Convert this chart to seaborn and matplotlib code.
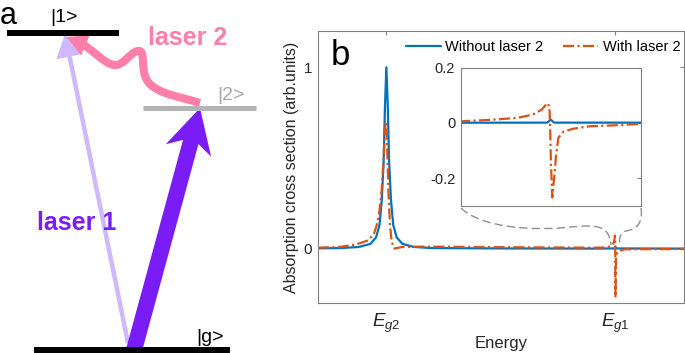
import numpy as np
import pandas as pd
import matplotlib
matplotlib.use("Agg")
import matplotlib.pyplot as plt
import seaborn as sns
from matplotlib.path import Path
from matplotlib.patches import PathPatch, FancyArrow, Polygon

# ---------------- data ----------------
energy_without = [0.70, 0.80, 0.88, 0.93, 0.955, 0.970, 0.980, 0.988, 0.994, 1.000,
                  1.006, 1.012, 1.020, 1.030, 1.045, 1.070, 1.120, 1.200, 1.500,
                  1.900, 1.9985, 2.0000, 2.0015, 2.300]
absorption_without = [0.0015, 0.003, 0.009, 0.026, 0.062, 0.13, 0.27, 0.48, 0.79, 1.00,
                      0.79, 0.48, 0.27, 0.13, 0.062, 0.026, 0.009, 0.003, 0.001,
                      0.000, 0.001, 0.012, 0.001, 0.000]

energy_with = [0.70, 0.80, 0.865, 0.92, 0.945, 0.958, 0.970, 0.980, 0.988, 0.994,
               0.998, 1.002, 1.006, 1.010, 1.016, 1.022, 1.030, 1.036, 1.045, 1.07,
               1.15, 1.30, 1.50, 1.75, 1.90,
               1.960, 1.973, 1.985, 1.992, 1.996, 1.9985, 1.9994, 1.9997, 2.0001,
               2.0007, 2.0015, 2.0024, 2.0034, 2.0056, 2.0100, 2.0175, 2.0277,
               2.0397, 2.15, 2.30]
absorption_with = [0.005, 0.010, 0.022, 0.045, 0.08, 0.13, 0.21, 0.33, 0.50, 0.66,
                   0.70, 0.62, 0.45, 0.28, 0.13, 0.05, 0.01, 0.0, 0.003, 0.009,
                   0.011, 0.010, 0.008, 0.006, 0.005,
                   0.006, 0.011, 0.018, 0.030, 0.048, 0.072, 0.060, 0.0, -0.15,
                   -0.27, -0.20, -0.114, -0.054, -0.032, -0.021, -0.012, -0.009,
                   -0.004, -0.003, -0.002]

series_names = ["Without laser 2", "With laser 2"]
xtick_positions = [1.0, 2.0]
xtick_labels = [r"$E_{g2}$", r"$E_{g1}$"]
ytick_main = [0, 1]
ytick_inset = [-0.2, 0, 0.2]
ytick_inset_labels = ["-0.2", "0", "0.2"]

# ---------------- style ----------------
sns.set_theme(style="white")
plt.rcParams["font.family"] = ["Liberation Sans", "DejaVu Sans"]
plt.rcParams["mathtext.fontset"] = "custom"
plt.rcParams["mathtext.it"] = "Liberation Sans:italic"
plt.rcParams["mathtext.rm"] = "Liberation Sans"
plt.rcParams["axes.unicode_minus"] = False

BLUE = "#0072BD"
ORANGE = "#D95319"
SPINE = "#808080"
TXT = "#262626"
DASHDOT = (0, (5, 1.5, 1, 1.5))

fig = plt.figure(figsize=(6.85, 3.53), dpi=100)

df_wo = pd.DataFrame({"Energy": energy_without, "Absorption": absorption_without})
df_w = pd.DataFrame({"Energy": energy_with, "Absorption": absorption_with})

# ---------------- main axes (panel b) ----------------
ax = fig.add_axes([0.4638, 0.1416, 0.5347, 0.7706])
sns.lineplot(data=df_wo, x="Energy", y="Absorption", ax=ax, color=BLUE, lw=1.6,
             estimator=None, sort=False, label=series_names[0])
sns.lineplot(data=df_w, x="Energy", y="Absorption", ax=ax, color=ORANGE, lw=1.6,
             estimator=None, sort=False, linestyle=DASHDOT, label=series_names[1])
ax.set_xlim(0.7, 2.3)
ax.set_ylim(-0.3, 1.2)
ax.set_xticks(xtick_positions, xtick_labels)
ax.set_yticks(ytick_main, [str(v) for v in ytick_main])
ax.tick_params(direction="in", length=3, width=0.8, color=SPINE, top=True, right=True,
               labelsize=11, labelcolor=TXT)
ax.tick_params(axis="x", pad=6, labelsize=13.5)
ax.tick_params(axis="y", pad=4)
for s in ax.spines.values():
    s.set_color(SPINE)
    s.set_linewidth(0.8)
ax.set_xlabel("Energy", fontsize=12, color=TXT, labelpad=1)
ax.set_ylabel("Absorption cross section (arb.units)", fontsize=11.5, color=TXT, labelpad=3)
ax.legend(loc="center", bbox_to_anchor=(0.615, 0.942), ncol=2, frameon=False,
          fontsize=10.5, handlelength=2.4, handletextpad=0.3, columnspacing=1.4,
          borderaxespad=0, borderpad=0, labelcolor="black")
ax.text(0.036, 0.875, "b", transform=ax.transAxes, fontsize=25, ha="left",
        va="baseline", color="black")

# ---------------- inset ----------------
axin = fig.add_axes([0.6726, 0.4173, 0.2628, 0.3909])
sns.lineplot(data=df_wo, x="Energy", y="Absorption", ax=axin, color=BLUE, lw=1.6,
             estimator=None, sort=False, legend=False)
sns.lineplot(data=df_w, x="Energy", y="Absorption", ax=axin, color=ORANGE, lw=1.6,
             estimator=None, sort=False, linestyle=DASHDOT, legend=False)
axin.set_xlim(1.96, 2.04)
axin.set_ylim(-0.3, 0.2)
axin.set_xticks([])
axin.set_yticks(ytick_inset, ytick_inset_labels)
axin.set_xlabel("")
axin.set_ylabel("")
axin.tick_params(direction="in", length=3, width=0.8, color=SPINE, right=True,
                 labelsize=10.5, labelcolor=TXT, pad=4)
for s in axin.spines.values():
    s.set_color(SPINE)
    s.set_linewidth(0.8)

# ---------------- overlay in pixel coordinates (panel a + connectors) ----------------
ov = fig.add_axes([0, 0, 1, 1])
ov.set_xlim(0, 685)
ov.set_ylim(353, 0)
ov.axis("off")

# dashed connectors from inset to E_g1 region
conn_left = Path([(461, 208), (475, 222), (510, 231), (560, 228),
                  (592, 225), (609, 222), (611, 245)],
                 [Path.MOVETO, Path.CURVE4, Path.CURVE4, Path.CURVE4,
                  Path.CURVE4, Path.CURVE4, Path.CURVE4])
conn_right = Path([(641, 208), (643, 222), (638, 229), (626, 231),
                   (619, 233), (619, 240), (620, 246)],
                  [Path.MOVETO, Path.CURVE4, Path.CURVE4, Path.CURVE4,
                   Path.CURVE4, Path.CURVE4, Path.CURVE4])
for p in (conn_left, conn_right):
    ov.add_patch(PathPatch(p, fill=False, edgecolor="#8f8f8f", lw=1.0,
                           linestyle=(0, (6, 3))))

# energy levels
ov.plot([7, 119], [32.5, 32.5], color="black", lw=4.3, solid_capstyle="butt")
ov.plot([143, 256], [107.7, 107.7], color="#B3B3B3", lw=3.6, solid_capstyle="butt")
ov.plot([34, 230], [349.5, 349.5], color="black", lw=4.3, solid_capstyle="butt")

ov.text(0, 0.5, "a", fontsize=22, ha="left", va="top", color="black")
ov.text(50, 22, "|1>", fontsize=14, ha="left", va="baseline", color="black")
ov.text(217, 100, "|2>", fontsize=14, ha="left", va="baseline", color="#A6A6A6")
ov.text(196, 341.5, "|g>", fontsize=14, ha="left", va="baseline", color="black")

# laser arrows
ov.add_patch(FancyArrow(128, 343, 65 - 128, 34 - 343, width=4.5, head_width=27,
                        head_length=23, length_includes_head=True,
                        color="#D0B8FF", lw=0))
ov.add_patch(FancyArrow(133.5, 352, 200 - 133.5, 108 - 352, width=16, head_width=47,
                        head_length=44, overhang=0.2, length_includes_head=True,
                        color="#7A1CF6", lw=0))

PINK = "#FF7EAA"
wave = Path([(200, 103), (175, 95), (147, 93), (144, 72),
             (142, 58), (144, 50), (138, 51),
             (130, 52), (124, 66), (114, 65),
             (104, 64), (92, 48), (78, 42)],
            [Path.MOVETO] + [Path.CURVE4] * 12)
ov.add_patch(PathPatch(wave, fill=False, edgecolor=PINK, lw=5.8, capstyle="butt",
                       joinstyle="round"))
ov.add_patch(Polygon([(66.5, 37), (89.7, 35.1), (81.1, 55.3)], closed=True,
                     facecolor=PINK, edgecolor="none"))

ov.text(37, 230, "laser 1", fontsize=18, fontweight="bold", ha="left",
        va="baseline", color="#7A1CF6")
ov.text(148, 45, "laser 2", fontsize=18, fontweight="bold", ha="left",
        va="baseline", color=PINK)

fig.savefig("out.png", dpi=100)
